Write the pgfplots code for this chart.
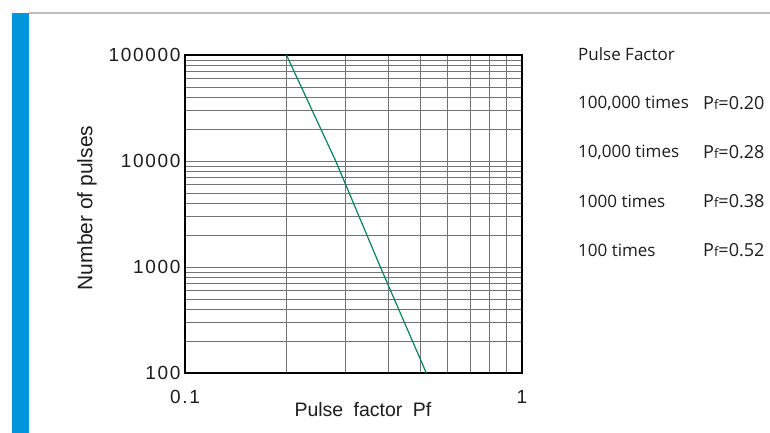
\documentclass[border=0pt]{standalone}
\usepackage{fontspec}
\setmainfont{Liberation Sans}
\newfontfamily\tickfont[LetterSpace=9]{Liberation Sans}
\newfontfamily\rtfont{Open Sans}
\usepackage{pgfplots}
\pgfplotsset{compat=1.18}
\definecolor{barblue}{RGB}{0,150,220}
\definecolor{linegreen}{RGB}{10,130,95}
\definecolor{txt}{RGB}{30,30,30}
\begin{document}
\begin{tikzpicture}
\useasboundingbox (0,0) rectangle (770pt,433pt);
\fill[white] (0,0) rectangle (770pt,433pt);
\fill[barblue] (12pt,0) rectangle (29pt,420pt);
\draw[black!25, line width=1.5pt] (29pt,420pt) -- (770pt,420pt);
\begin{axis}[
  at={(185pt,60pt)}, anchor=south west,
  scale only axis, width=337pt, height=318pt,
  xmode=log, ymode=log,
  xmin=0.1, xmax=1, ymin=100, ymax=100000,
  xtick={0.1,1}, xticklabels={0.1,1},
  ytick={100,1000,10000,100000}, yticklabels={100,1000,10000,100000},
  /pgf/number format/assume math mode=true,
  ticklabel style={font=\tickfont\fontsize{19}{21}\selectfont, text=txt},
  xticklabel style={yshift=-14pt},
  yticklabel style={xshift=-1pt},
  major tick length=0pt, minor tick length=0pt,
  grid=both,
  major grid style={black!55, line width=0.6pt},
  minor grid style={black!55, line width=0.6pt},
  axis line style={black, line width=1.4pt},
  xlabel={Pulse\hspace{5pt} factor\hspace{5pt} Pf},
  ylabel={Number of pulses},
  label style={text=txt},
  xlabel style={font=\fontsize{19.5}{21}\selectfont, at={(axis description cs:0.528,-0.116)}, anchor=center},
  ylabel style={font=\fontsize{21}{23}\selectfont, at={(axis description cs:-0.291,0.519)}, anchor=center, rotate=0},
]
\addplot[linegreen, line width=1.2pt] coordinates {(0.2,100000) (0.28,10000) (0.38,1000) (0.52,100)};
\end{axis}
\begin{scope}[every node/.style={anchor=west, inner sep=0pt, text=txt, font=\rtfont\fontsize{17}{19}\selectfont}]
\node at (578pt,379pt) {Pulse Factor};
\node at (578pt,330pt) {100,000 times};
\node at (578pt,281pt) {10,000 times};
\node at (578pt,232pt) {1000 times};
\node at (578pt,183pt) {100 times};
\end{scope}
\begin{scope}[every node/.style={anchor=west, inner sep=0pt, text=txt, font=\rtfont\fontsize{18}{19}\selectfont}]
\node at (703pt,330pt) {P{\fontsize{13}{13}\selectfont f}=0.20};
\node at (703pt,281pt) {P{\fontsize{13}{13}\selectfont f}=0.28};
\node at (703pt,232pt) {P{\fontsize{13}{13}\selectfont f}=0.38};
\node at (703pt,183pt) {P{\fontsize{13}{13}\selectfont f}=0.52};
\end{scope}
\end{tikzpicture}
\end{document}
